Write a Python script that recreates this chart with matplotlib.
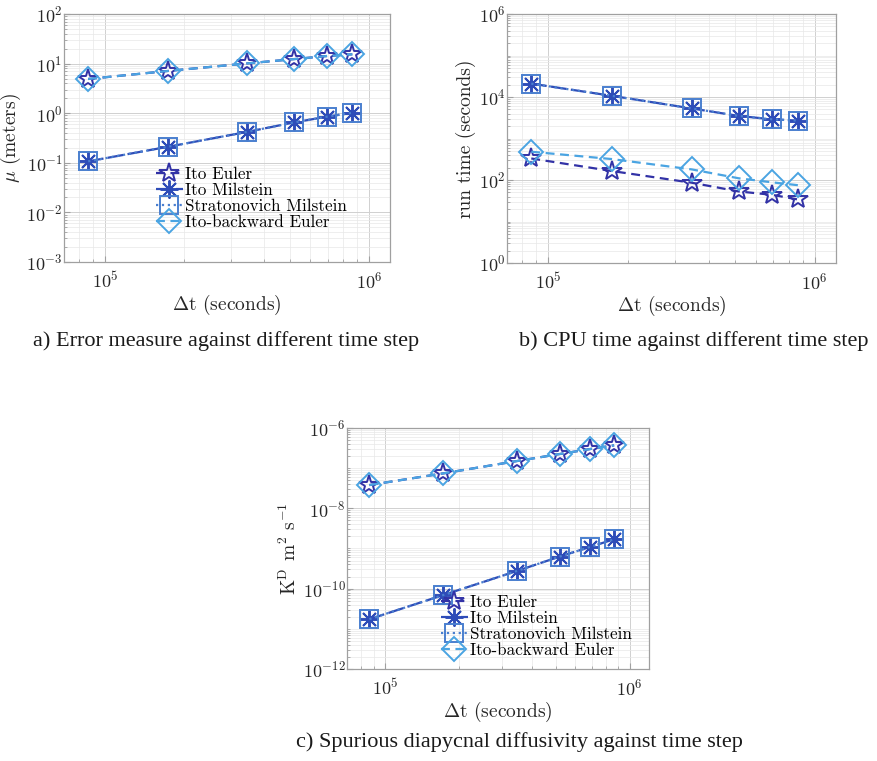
import matplotlib
matplotlib.use("Agg")
import matplotlib.pyplot as plt
from matplotlib.ticker import FixedLocator, LogLocator, NullFormatter, LogFormatterSciNotation
import numpy as np

plt.rcParams['mathtext.fontset'] = 'cm'
plt.rcParams['font.family'] = ['cmr10', 'DejaVu Serif']
plt.rcParams['axes.formatter.use_mathtext'] = True
plt.rcParams['axes.unicode_minus'] = False

# ---------------- data ----------------
dt = [86400, 172800, 345600, 518400, 691200, 864000]
labels = ["Ito Euler", "Ito Milstein", "Stratonovich Milstein", "Ito-backward Euler"]

# a) error measure (meters)
err_ito_euler = [4.9, 7.1, 10.1, 12.3, 14.2, 15.4]
err_ito_milstein = [0.107, 0.21, 0.42, 0.65, 0.85, 1.02]
err_strat_milstein = [0.107, 0.21, 0.42, 0.65, 0.85, 1.02]
err_back_euler = [4.9, 7.1, 10.1, 12.3, 14.2, 15.4]

# b) CPU run time (seconds)
cpu_ito_euler = [330, 165, 86, 53, 44, 34]
cpu_ito_milstein = [21000, 10700, 5300, 3500, 2900, 2700]
cpu_strat_milstein = [21000, 10700, 5300, 3500, 2900, 2700]
cpu_back_euler = [480, 320, 180, 110, 88, 75]

# c) spurious diapycnal diffusivity
kd_ito_euler = [3.8e-8, 7.4e-8, 1.5e-7, 2.25e-7, 3.0e-7, 3.7e-7]
kd_ito_milstein = [1.74e-11, 6.9e-11, 2.75e-10, 6.3e-10, 1.1e-9, 1.7e-9]
kd_strat_milstein = [1.74e-11, 6.9e-11, 2.75e-10, 6.3e-10, 1.1e-9, 1.7e-9]
kd_back_euler = [3.8e-8, 7.4e-8, 1.5e-7, 2.25e-7, 3.0e-7, 3.7e-7]

# ---------------- styles ----------------
styles = [
    dict(color='#3232a6', marker='*', ms=15, ls='--', dashes=(4, 2.5)),
    dict(color='#2e4cb8', marker=(8, 2, 0), ms=13, ls='--', dashes=(7, 2)),
    dict(color='#4a7fcf', marker='s', ms=13, ls=':'),
    dict(color='#4aa4e2', marker='D', ms=12, ls='--', dashes=(4, 2.5)),
]

fig = plt.figure(figsize=(8.77, 7.61), dpi=100)

def setup(ax, ylim, yticks, ylabel):
    ax.set_xscale('log')
    ax.set_yscale('log')
    ax.set_xlim(7e4, 1.2e6)
    ax.set_ylim(*ylim)
    ax.yaxis.set_major_locator(FixedLocator(yticks))
    ax.yaxis.set_minor_locator(LogLocator(base=10, subs=np.arange(1, 10), numticks=50))
    ax.yaxis.set_minor_formatter(NullFormatter())
    ax.xaxis.set_major_locator(FixedLocator([1e5, 1e6]))
    ax.xaxis.set_major_formatter(LogFormatterSciNotation())
    ax.xaxis.set_minor_locator(LogLocator(base=10, subs=np.arange(1, 10), numticks=50))
    ax.xaxis.set_minor_formatter(NullFormatter())
    ax.grid(True, which='major', color='#d0d0d0', lw=0.7)
    ax.grid(True, which='minor', color='#e8e8e8', lw=0.5)
    ax.set_axisbelow(True)
    for s in ax.spines.values():
        s.set_color('#a0a0a0')
        s.set_linewidth(0.9)
    ax.tick_params(which='both', direction='in', colors='#a0a0a0', labelcolor='#262626',
                   labelsize=13)
    ax.tick_params(axis='y', which='major', pad=1)
    ax.tick_params(axis='x', which='major', pad=6)
    ax.tick_params(which='major', length=4)
    ax.tick_params(which='minor', length=2)
    ax.set_xlabel(r'$\Delta$t (seconds)', fontsize=14, color='#262626', labelpad=1)
    ax.set_ylabel(ylabel, fontsize=14, color='#262626', labelpad=2)

def draw(ax, series):
    hs = []
    for y, st, lab in zip(series, styles, labels):
        kw = dict(color=st['color'], marker=st['marker'], markersize=st['ms'],
                  markerfacecolor='none', markeredgecolor=st['color'], markeredgewidth=1.4,
                  linestyle=st['ls'], lw=1.6, label=lab)
        if 'dashes' in st:
            kw['dashes'] = st['dashes']
        h, = ax.plot(dt, y, **kw)
        hs.append(h)
    return hs

leg_kw = dict(loc='upper left', frameon=False, fontsize=12.3, handlelength=1.6,
              handletextpad=0.1, labelspacing=0.05, borderaxespad=0)

# panel a
axa = fig.add_axes([0.073, 0.6557, 0.3717, 0.3259])
setup(axa, (1e-3, 1e2), [1e-3, 1e-2, 1e-1, 1e0, 1e1, 1e2], r'$\mu$ (meters)')
draw(axa, [err_ito_euler, err_ito_milstein, err_strat_milstein, err_back_euler])
axa.legend(bbox_to_anchor=(0.26, 0.412), **leg_kw)

# panel b
axb = fig.add_axes([0.578, 0.6544, 0.3751, 0.3272])
setup(axb, (1e0, 1e6), [1e0, 1e2, 1e4, 1e6], 'run time (seconds)')
draw(axb, [cpu_ito_euler, cpu_ito_milstein, cpu_strat_milstein, cpu_back_euler])

# panel c
axc = fig.add_axes([0.3957, 0.1209, 0.3444, 0.3167])
setup(axc, (1e-12, 1e-6), [1e-12, 1e-10, 1e-8, 1e-6], r'K$^{\mathrm{D}}$ m$^2$ s$^{-1}$')
draw(axc, [kd_ito_euler, kd_ito_milstein, kd_strat_milstein, kd_back_euler])
axc.legend(bbox_to_anchor=(0.287, 0.337), **leg_kw)

cap = dict(fontsize=16, family='Liberation Serif', ha='center', va='center', color='#1a1a1a')
fig.text(226 / 877, 1 - 341 / 761, 'a) Error measure against different time step', **cap)
fig.text(694 / 877, 1 - 341 / 761, 'b) CPU time against different time step', **cap)
fig.text(519 / 877, 1 - 742 / 761, 'c) Spurious diapycnal diffusivity against time step', **cap)

fig.savefig('out.png', dpi=100)
